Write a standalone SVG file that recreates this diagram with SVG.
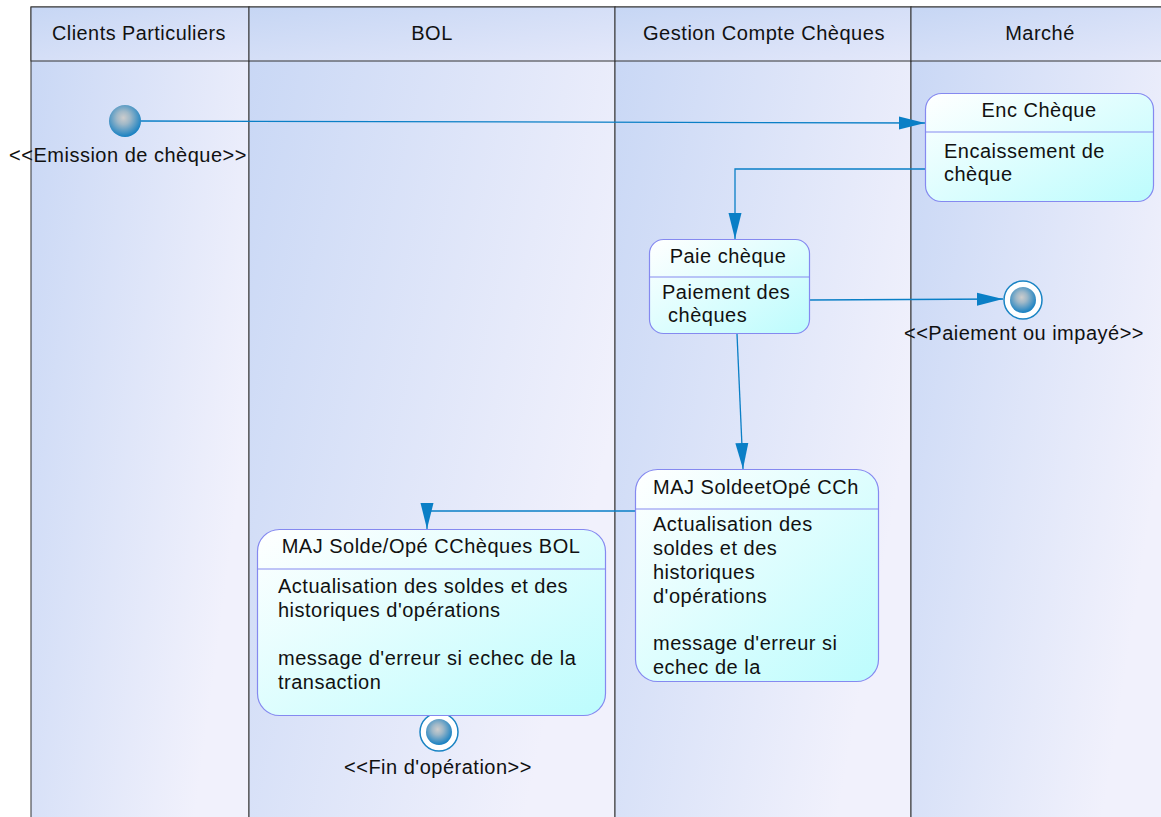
<svg xmlns="http://www.w3.org/2000/svg" width="1161" height="817" viewBox="0 0 1161 817">
<defs>
<linearGradient id="lane" x1="0" y1="0" x2="1" y2="0.5">
<stop offset="0" stop-color="#c8d7f5"/><stop offset="1" stop-color="#f1f1fc"/>
</linearGradient>
<linearGradient id="head" x1="0" y1="0" x2="1" y2="1">
<stop offset="0" stop-color="#c6d6f4"/><stop offset="1" stop-color="#e4e8fa"/>
</linearGradient>
<linearGradient id="box" x1="0" y1="0" x2="1" y2="1">
<stop offset="0" stop-color="#ffffff"/><stop offset="1" stop-color="#bcfcfd"/>
</linearGradient>
<radialGradient id="dot" cx="0.45" cy="0.4" r="0.6">
<stop offset="0" stop-color="#cdcdcd"/><stop offset="0.35" stop-color="#9fb8c8"/><stop offset="1" stop-color="#1680c2"/>
</radialGradient>
<marker id="arr" markerUnits="userSpaceOnUse" markerWidth="27" markerHeight="14" refX="26" refY="7" orient="auto">
<path d="M0,0.5 L26,7 L0,13.5 z" fill="#0a7fc6"/>
</marker>
<style>
text{font-family:"Liberation Sans",Arial,sans-serif;font-size:20px;letter-spacing:0.5px;fill:#111;}
.c{text-anchor:middle;}
.lane{fill:url(#lane);stroke:#333;stroke-width:1;}
.hd{fill:url(#head);stroke:#333;stroke-width:1;}
.bx{fill:url(#box);stroke:#8589f0;stroke-width:1.2;}
.dv{stroke:#8589f0;stroke-width:1.2;}
.cn{fill:none;stroke:#0a7fc6;stroke-width:1.3;marker-end:url(#arr);}
.ring{fill:#fff;stroke:#1a84c4;stroke-width:1.5;}
</style>
</defs>

<g id="lanes">
<rect class="lane" x="31" y="7" width="218" height="815"/>
<rect class="lane" x="249" y="7" width="366" height="815"/>
<rect class="lane" x="615" y="7" width="296" height="815"/>
<rect class="lane" x="911" y="7" width="255" height="815"/>
<rect class="hd" x="31" y="7" width="218" height="54"/>
<rect class="hd" x="249" y="7" width="366" height="54"/>
<rect class="hd" x="615" y="7" width="296" height="54"/>
<rect class="hd" x="911" y="7" width="255" height="54"/>
<text class="c" x="139" y="40" textLength="174" lengthAdjust="spacingAndGlyphs">Clients Particuliers</text>
<text class="c" x="432" y="40">BOL</text>
<text class="c" x="764" y="40" textLength="242" lengthAdjust="spacingAndGlyphs">Gestion Compte Chèques</text>
<text class="c" x="1040" y="40">Marché</text>
</g>

<g id="connectors">
<line class="cn" x1="141" y1="121" x2="925" y2="123"/>
<path class="cn" d="M925,169 H735 V239"/>
<line class="cn" x1="810" y1="300" x2="1003" y2="299"/>
<line class="cn" x1="737" y1="334" x2="743" y2="469"/>
<path class="cn" d="M635,511 H427 V529"/>
</g>

<g id="start">
<circle cx="125" cy="121" r="16" fill="url(#dot)"/>
<text class="c" x="128" y="162">&lt;&lt;Emission de chèque&gt;&gt;</text>
</g>

<g id="enc-cheque">
<rect class="bx" x="925.5" y="93.5" width="228" height="108" rx="16"/>
<line class="dv" x1="925.5" y1="132" x2="1153.5" y2="132"/>
<text class="c" x="1039" y="117">Enc Chèque</text>
<text x="944" y="158">Encaissement de</text>
<text x="944" y="181">chèque</text>
</g>

<g id="paie-cheque">
<rect class="bx" x="649.5" y="239.5" width="160" height="94" rx="14"/>
<line class="dv" x1="649.5" y1="277" x2="809.5" y2="277"/>
<text class="c" x="728" y="263">Paie chèque</text>
<text x="662" y="299">Paiement des</text>
<text x="662" y="322" xml:space="preserve"> chèques</text>
</g>

<g id="end-paiement">
<circle class="ring" cx="1023" cy="300" r="19"/>
<circle cx="1023" cy="300" r="13" fill="url(#dot)"/>
<text class="c" x="1024" y="340">&lt;&lt;Paiement ou impayé&gt;&gt;</text>
</g>

<g id="maj-cch">
<rect class="bx" x="635.5" y="469.5" width="243" height="212" rx="22"/>
<line class="dv" x1="635.5" y1="509" x2="878.5" y2="509"/>
<text x="653" y="494">MAJ SoldeetOpé CCh</text>
<text x="653" y="531">Actualisation des</text>
<text x="653" y="555">soldes et des</text>
<text x="653" y="579">historiques</text>
<text x="653" y="603">d'opérations</text>
<text x="653" y="650">message d'erreur si</text>
<text x="653" y="674">echec de la</text>
</g>

<g id="end-fin">
<circle class="ring" cx="439" cy="732" r="19"/>
<circle cx="439" cy="732" r="13" fill="url(#dot)"/>
<text class="c" x="438" y="774">&lt;&lt;Fin d'opération&gt;&gt;</text>
</g>

<g id="maj-bol">
<rect class="bx" x="257.5" y="529.5" width="348" height="186" rx="22"/>
<line class="dv" x1="257.5" y1="569" x2="605.5" y2="569"/>
<text class="c" x="431" y="553">MAJ Solde/Opé CChèques BOL</text>
<text x="278" y="593">Actualisation des soldes et des</text>
<text x="278" y="617">historiques d'opérations</text>
<text x="278" y="665">message d'erreur si echec de la</text>
<text x="278" y="689">transaction</text>
</g>
</svg>
